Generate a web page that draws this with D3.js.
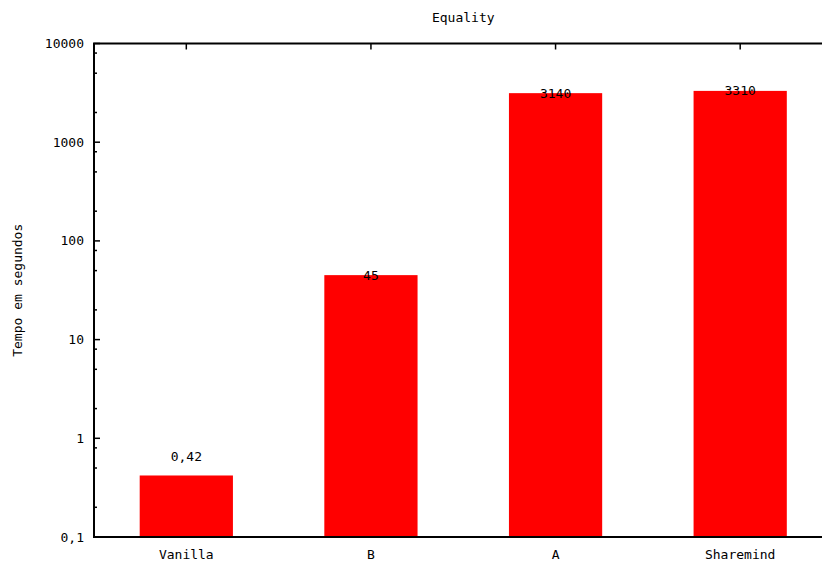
<!DOCTYPE html>
<html><head><meta charset="utf-8">
<script src="https://cdn.jsdelivr.net/npm/d3@7"></script>
<style>
html,body{margin:0;padding:0;background:#fff;}
text{font-family:"DejaVu Sans Mono",monospace;font-size:13px;fill:#000;}
</style></head>
<body>
<svg id="c" width="822" height="565"></svg>
<script>
const categories = ["Vanilla", "B", "A", "Sharemind"];
const values = [0.42, 45, 3140, 3310];
const valueLabels = ["0,42", "45", "3140", "3310"];
const labelAt = [0.65, 45, 3140, 3310];
const yTickValues = [0.1, 1, 10, 100, 1000, 10000];
const yTickLabels = ["0,1", "1", "10", "100", "1000", "10000"];
const yMinorMultipliers = [2, 5, 8];
const title = "Equality";
const yTitle = "Tempo em segundos";

const svg = d3.select("#c");
const L = 94, T = 43.5, B = 537, R = 832.5;

const x = d3.scaleLinear().domain([-0.5, categories.length - 0.5]).range([L, R]);
const y = d3.scaleLog().domain([0.1, 10000]).range([B, T]);
const barW = (x(1) - x(0)) * 0.505;

// bars
svg.append("g").selectAll("rect").data(values).join("rect")
  .attr("x", (d, i) => x(i) - barW / 2)
  .attr("width", barW)
  .attr("y", d => y(d))
  .attr("height", d => B - y(d))
  .attr("fill", "#ff0000");

// minor ticks
const minors = [];
for (let k = 0; k < yTickValues.length - 1; k++)
  yMinorMultipliers.forEach(m => minors.push(yTickValues[k] * m));

const ax = svg.append("g").attr("stroke", "#000");
ax.selectAll("line.minor").data(minors).join("line").attr("class", "minor")
  .attr("x1", L).attr("x2", L + 3).attr("y1", d => y(d)).attr("y2", d => y(d)).attr("stroke-width", 1.5);
ax.selectAll("line.major").data(yTickValues).join("line").attr("class", "major")
  .attr("x1", L).attr("x2", L + 6).attr("y1", d => y(d)).attr("y2", d => y(d)).attr("stroke-width", 1.5);
// top ticks
ax.selectAll("line.top").data(categories).join("line").attr("class", "top")
  .attr("x1", (d, i) => x(i)).attr("x2", (d, i) => x(i)).attr("y1", T).attr("y2", T + 6).attr("stroke-width", 1.5);

// frame
ax.append("path").attr("fill", "none").attr("stroke-width", 2)
  .attr("d", `M${R},${T}H${L}V${B}H${R}`);

// y tick labels
svg.append("g").selectAll("text").data(yTickValues).join("text")
  .attr("x", L - 10).attr("y", d => y(d)).attr("dy", "0.35em")
  .attr("text-anchor", "end").text((d, i) => yTickLabels[i]);

// x labels
svg.append("g").selectAll("text").data(categories).join("text")
  .attr("x", (d, i) => x(i)).attr("y", B + 22)
  .attr("text-anchor", "middle").text(d => d);

// value labels
svg.append("g").selectAll("text").data(valueLabels).join("text")
  .attr("x", (d, i) => x(i)).attr("y", (d, i) => y(labelAt[i])).attr("dy", "0.35em")
  .attr("text-anchor", "middle").text(d => d);

// title
svg.append("text").attr("x", (L + R) / 2).attr("y", 22).attr("text-anchor", "middle").text(title);

// y title
svg.append("text").attr("transform", `translate(22,${(T + B) / 2}) rotate(-90)`)
  .attr("text-anchor", "middle").text(yTitle);
</script>
</body></html>
